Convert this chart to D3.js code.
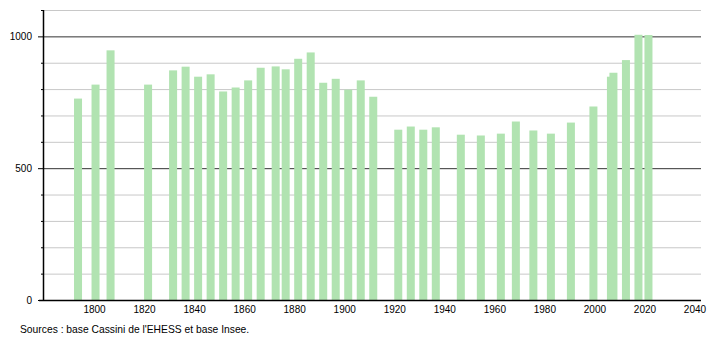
<!DOCTYPE html>
<html lang="fr">
<head>
	<meta charset="utf-8">
	<title>Population</title>
	<style>
	body { margin: 0; background: #fff; }
	text { font-family: "Liberation Sans", Arial, sans-serif; font-size: 10px; fill: #000; }
	</style>
</head>
<body>
	<svg width="710" height="340"></svg>
	<script src="https://d3js.org/d3.v7.min.js"></script>
	<script>

	// census years and population
	var years = [1793, 1800, 1806, 1821, 1831, 1836, 1841, 1846, 1851, 1856,
		1861, 1866, 1872, 1876, 1881, 1886, 1891, 1896, 1901, 1906,
		1911, 1921, 1926, 1931, 1936, 1946, 1954, 1962, 1968, 1975,
		1982, 1990, 1999, 2006, 2007, 2012, 2017, 2021];
	var population = [764, 817, 947, 817, 871, 885, 847, 856, 791, 806,
		833, 881, 886, 875, 915, 939, 824, 839, 798, 833,
		771, 646, 658, 646, 655, 627, 624, 631, 677, 643,
		631, 673, 734, 847, 862, 910, 1006, 1005];

	var xTicks = [1800, 1820, 1840, 1860, 1880, 1900, 1920, 1940, 1960, 1980, 2000, 2020, 2040];
	var yLabels = [0, 500, 1000];
	var yGrid = d3.range(100, 1101, 100);
	var source = "Sources : base Cassini de l'EHESS et base Insee.";

	var svg = d3.select("svg");

	var x = d3.scaleLinear()
		.domain([1779, 2042])
		.range([43, 701]);

	var y = d3.scaleLinear()
		.domain([0, 1100])
		.range([300, 10]);

	var barW = x(1.6) - x(-1.6);

	// grid
	svg.append("g")
		.selectAll("line")
		.data(yGrid)
		.enter().append("line")
			.attr("x1", x.range()[0])
			.attr("x2", x.range()[1])
			.attr("y1", function(d) { return y(d) + 0.5; })
			.attr("y2", function(d) { return y(d) + 0.5; })
			.attr("stroke", function(d) { return d % 500 == 0 ? "#333" : "#c8c8c8"; })
			.attr("stroke-width", 1);

	// bars
	svg.append("g")
		.selectAll("rect")
		.data(years)
		.enter().append("rect")
			.attr("x", function(d) { return x(d) - barW / 2; })
			.attr("y", function(d, i) { return y(population[i]); })
			.attr("width", barW)
			.attr("height", function(d, i) { return y(0) - y(population[i]); })
			.attr("fill", "#b1e3b1");

	// y axis
	var yAxis = svg.append("g");
	yAxis.append("line")
		.attr("x1", 43.5).attr("x2", 43.5)
		.attr("y1", y(1100)).attr("y2", y(0) + 1)
		.attr("stroke", "#000").attr("stroke-width", 1.5);
	yAxis.selectAll(".tick")
		.data(d3.range(0, 1101, 100))
		.enter().append("line")
			.attr("x1", function(d) { return d % 500 == 0 ? 38 : 41; })
			.attr("x2", 43)
			.attr("y1", function(d) { return y(d) + 0.5; })
			.attr("y2", function(d) { return y(d) + 0.5; })
			.attr("stroke", "#000");
	yAxis.selectAll("text")
		.data(yLabels)
		.enter().append("text")
			.attr("x", 32)
			.attr("y", function(d) { return y(d) + 3.5; })
			.attr("text-anchor", "end")
			.text(function(d) { return d; });

	// x axis
	var xAxis = svg.append("g");
	xAxis.append("line")
		.attr("x1", 39).attr("x2", x.range()[1])
		.attr("y1", 300.5).attr("y2", 300.5)
		.attr("stroke", "#000").attr("stroke-width", 1.5);
	xAxis.selectAll("text")
		.data(xTicks)
		.enter().append("text")
			.attr("x", function(d) { return x(d) - 1; })
			.attr("y", 312.5)
			.attr("text-anchor", "middle")
			.text(function(d) { return d; });

	svg.append("text")
		.attr("x", 20)
		.attr("y", 333)
		.style("font-size", "10.3px")
		.text(source);

	</script>
</body>
</html>
